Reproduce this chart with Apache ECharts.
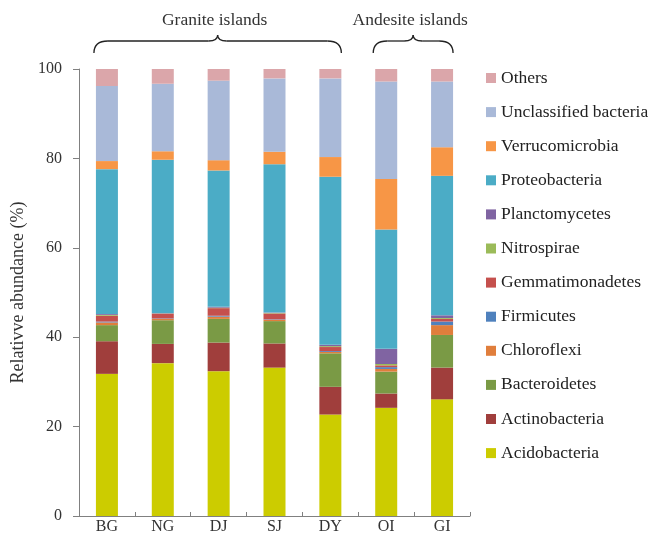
<!DOCTYPE html>
<html>
<head>
<meta charset="utf-8">
<script src="https://cdn.jsdelivr.net/npm/echarts@6/dist/echarts.min.js"></script>
<style>
  html, body { margin: 0; padding: 0; background: #fff; }
  #chart { width: 648px; height: 546px; }
</style>
</head>
<body>
<div id="chart"></div>
<script>
// Sampling sites (islands)
const sites = ['BG', 'NG', 'DJ', 'SJ', 'DY', 'OI', 'GI'];

// Relative abundance (%) of each bacterial phylum per site
const acidobacteria    = [31.8, 34.2, 32.4, 33.2, 22.7, 24.2, 26.1];
const actinobacteria   = [7.3, 4.3, 6.4, 5.4, 6.2, 3.2, 7.1];
const bacteroidetes    = [3.6, 5.3, 5.3, 5.0, 7.5, 4.9, 7.3];
const chloroflexi      = [0.6, 0.3, 0.5, 0.3, 0.3, 0.6, 2.2];
const firmicutes       = [0.2, 0.1, 0.2, 0.1, 0.2, 0.4, 0.8];
const gemmatimonadetes = [1.3, 1.0, 1.7, 1.3, 0.9, 0.4, 0.6];
const nitrospirae      = [0.2, 0.1, 0.1, 0.1, 0.2, 0.3, 0.2];
const planctomycetes   = [0.2, 0.1, 0.2, 0.1, 0.3, 3.4, 0.6];
const proteobacteria   = [32.4, 34.3, 30.5, 33.2, 37.6, 26.7, 31.2];
const verrucomicrobia  = [1.8, 1.9, 2.3, 2.8, 4.4, 11.3, 6.4];
const unclassified     = [16.8, 15.1, 17.8, 16.4, 17.6, 21.8, 14.7];
const others           = [3.8, 3.3, 2.6, 2.1, 2.1, 2.8, 2.8];

// Y-axis ticks
const yTicks = [0, 20, 40, 60, 80, 100];

// Site groups shown with braces above the bars
const groups = [
  { name: 'Granite islands', from: 'BG', to: 'DY' },
  { name: 'Andesite islands', from: 'OI', to: 'GI' }
];

// Stack order, bottom to top
const layers = [
  { name: 'Acidobacteria', data: acidobacteria, color: '#CCCC00' },
  { name: 'Actinobacteria', data: actinobacteria, color: '#A03E3C' },
  { name: 'Bacteroidetes', data: bacteroidetes, color: '#7A9A45' },
  { name: 'Chloroflexi', data: chloroflexi, color: '#E07E3C' },
  { name: 'Firmicutes', data: firmicutes, color: '#4F81BD' },
  { name: 'Gemmatimonadetes', data: gemmatimonadetes, color: '#C5504D' },
  { name: 'Nitrospirae', data: nitrospirae, color: '#9BBB59' },
  { name: 'Planctomycetes', data: planctomycetes, color: '#8064A2' },
  { name: 'Proteobacteria', data: proteobacteria, color: '#4BACC6' },
  { name: 'Verrucomicrobia', data: verrucomicrobia, color: '#F79646' },
  { name: 'Unclassified bacteria', data: unclassified, color: '#A9B9D8' },
  { name: 'Others', data: others, color: '#DBA6AA' }
];

const FONT = '"Liberation Serif", "Times New Roman", serif';
const chart = echarts.init(document.getElementById('chart'), null, { renderer: 'canvas' });

chart.setOption({
  animation: false,
  backgroundColor: '#ffffff',
  textStyle: { fontFamily: FONT },
  grid: { left: 79, right: 178, top: 69, bottom: 30, containLabel: false },
  legend: {
    orient: 'vertical',
    left: 481,
    top: 64,
    itemWidth: 10,
    itemHeight: 10,
    itemGap: 16.1,
    icon: 'rect',
    data: layers.map(l => l.name).reverse(),
    textStyle: { fontFamily: FONT, fontSize: 17.5, color: '#222', lineHeight: 18 }
  },
  xAxis: {
    type: 'category',
    data: sites,
    boundaryGap: true,
    axisLine: { show: true, lineStyle: { color: '#808080', width: 1 } },
    axisTick: { show: true, inside: true, length: 4, alignWithLabel: false, lineStyle: { color: '#808080' } },
    axisLabel: { fontFamily: FONT, fontSize: 16, color: '#333', margin: 3 }
  },
  yAxis: {
    type: 'value',
    min: yTicks[0],
    max: yTicks[yTicks.length - 1],
    interval: yTicks[1] - yTicks[0],
    name: 'Relativve abundance (%)',
    nameLocation: 'middle',
    nameRotate: 90,
    nameGap: 44,
    nameTextStyle: { fontFamily: FONT, fontSize: 18, color: '#333' },
    splitLine: { show: false },
    axisLine: { show: true, lineStyle: { color: '#808080', width: 1 } },
    axisTick: { show: true, inside: false, length: 6, lineStyle: { color: '#808080' } },
    axisLabel: { fontFamily: FONT, fontSize: 16, color: '#333', margin: 17 }
  },
  series: layers.map(l => ({
    name: l.name,
    type: 'bar',
    stack: 'abundance',
    barWidth: 22,
    data: l.data,
    itemStyle: { color: l.color },
    emphasis: { disabled: true }
  }))
});

// Curly braces with group titles above the bars
const BRACE_STYLE = { fill: null, stroke: '#222', lineWidth: 1.3 };
function curve(x1, y1, cx, cy, x2, y2) {
  return { type: 'bezierCurve', shape: { x1: x1, y1: y1, cpx1: cx, cpy1: cy, x2: x2, y2: y2 }, style: BRACE_STYLE };
}
function seg(x1, y1, x2, y2) {
  return { type: 'line', shape: { x1: x1, y1: y1, x2: x2, y2: y2 }, style: BRACE_STYLE };
}
function brace(xl, xr, xm, yb, yh, yt) {
  const r = 14, rm = 9;
  return [
    curve(xl, yb, xl, yh, xl + r, yh),
    seg(xl + r, yh, xm - rm, yh),
    curve(xm - rm, yh, xm, yh, xm, yt),
    curve(xm, yt, xm, yh, xm + rm, yh),
    seg(xm + rm, yh, xr - r, yh),
    curve(xr - r, yh, xr, yh, xr, yb)
  ];
}

const graphics = [];
groups.forEach(g => {
  const x1 = chart.convertToPixel({ xAxisIndex: 0 }, g.from);
  const x2 = chart.convertToPixel({ xAxisIndex: 0 }, g.to);
  const xl = x1 - 13, xr = x2 + 11, xm = (xl + xr) / 2;
  brace(xl, xr, xm, 53, 41, 35).forEach(el => graphics.push(el));
  graphics.push({
    type: 'text',
    x: xm - 3,
    y: 20,
    style: {
      text: g.name,
      fontFamily: FONT,
      fontSize: 17.5,
      fill: '#333',
      align: 'center',
      verticalAlign: 'middle'
    }
  });
});
chart.setOption({ graphic: graphics });
</script>
</body>
</html>
